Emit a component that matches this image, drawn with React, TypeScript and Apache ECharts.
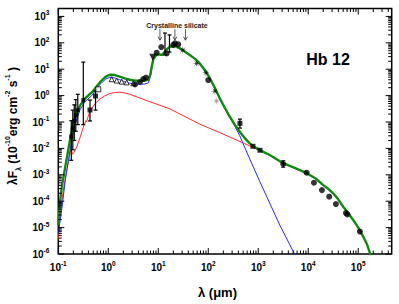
import React, { useEffect, useRef } from 'react';
import * as echarts from 'echarts';

// All values are log10: x = log10(lambda / micron), y = log10(lambda F_lambda / 1e-10 erg cm^-2 s^-1)
const X_MIN = -1;
const X_MAX = 5.67;
const Y_MIN = -6;
const Y_MAX = 3.3;
const FONT = '"Liberation Sans", Arial, sans-serif';

const totalModel: number[][] = [
  [-1.0, -4.9], [-0.97, -4.1], [-0.93, -3.45], [-0.86, -2.69], [-0.79, -1.94], [-0.73, -1.3],
  [-0.66, -0.8], [-0.56, -0.36], [-0.46, -0.1], [-0.33, 0.12], [-0.17, 0.5], [-0.05, 0.72],
  [0.03, 0.79], [0.13, 0.78], [0.23, 0.72], [0.33, 0.65], [0.43, 0.6], [0.53, 0.57], [0.63, 0.56],
  [0.73, 0.57], [0.8, 0.6], [0.84, 0.78], [0.87, 1.1], [0.9, 1.38], [0.95, 1.52], [1.0, 1.56],
  [1.04, 1.55], [1.08, 1.55], [1.13, 1.66], [1.18, 1.77], [1.23, 1.85], [1.33, 1.88], [1.43, 1.79],
  [1.53, 1.67], [1.63, 1.54], [1.73, 1.4], [1.83, 1.22], [1.93, 0.97], [2.03, 0.67], [2.13, 0.3],
  [2.23, -0.1], [2.33, -0.46], [2.43, -0.8], [2.53, -1.1], [2.63, -1.37], [2.73, -1.61], [2.83, -1.81],
  [2.93, -1.95], [3.03, -2.06], [3.13, -2.16], [3.23, -2.25], [3.5, -2.56], [3.75, -2.76], [3.97, -2.94],
  [4.15, -3.14], [4.3, -3.39], [4.4, -3.53], [4.5, -3.7], [4.6, -3.93], [4.7, -4.21], [4.8, -4.45],
  [4.9, -4.71], [5.0, -5.0], [5.1, -5.34], [5.18, -5.65], [5.25, -6.05],
];

const dustModel: number[][] = [
  [-1.0, -5.2], [-0.93, -4.3], [-0.86, -3.2], [-0.79, -2.35], [-0.73, -1.65], [-0.66, -1.05],
  [-0.56, -0.52], [-0.46, -0.22], [-0.33, 0.0], [-0.17, 0.42], [-0.05, 0.63], [0.03, 0.69],
  [0.13, 0.67], [0.23, 0.6], [0.33, 0.52], [0.43, 0.47], [0.53, 0.44], [0.63, 0.43], [0.73, 0.44],
  [0.8, 0.48], [0.84, 0.7], [0.87, 1.05], [0.9, 1.38], [0.95, 1.52], [1.0, 1.56],
  [1.04, 1.55], [1.08, 1.55], [1.13, 1.66], [1.18, 1.77], [1.23, 1.85], [1.33, 1.88], [1.43, 1.79],
  [1.53, 1.67], [1.63, 1.54], [1.73, 1.4], [1.83, 1.22], [1.93, 0.97], [2.03, 0.67], [2.13, 0.3],
  [2.23, -0.1], [2.33, -0.47], [2.43, -0.82], [2.53, -1.15], [2.63, -1.52], [2.73, -1.96], [2.83, -2.4],
  [3.03, -3.25], [3.43, -4.9], [3.74, -6.05],
];

const nebularModel: number[][] = [
  [-1.0, -5.45], [-0.966, -4.59], [-0.9, -3.58], [-0.83, -2.82], [-0.79, -2.45], [-0.76, -2.1],
  [-0.74, -2.04], [-0.715, -2.22], [-0.69, -2.16], [-0.63, -1.94], [-0.56, -1.56], [-0.5, -1.2],
  [-0.45, -0.95], [-0.435, -0.99], [-0.41, -0.84], [-0.37, -0.6], [-0.27, -0.32], [-0.17, -0.13],
  [-0.07, -0.01], [0.03, 0.08], [0.13, 0.12], [0.23, 0.13], [0.33, 0.1], [0.43, 0.05], [0.63, -0.09],
  [0.83, -0.23], [1.23, -0.5], [1.83, -1.08], [2.23, -1.4], [2.73, -1.82], [3.03, -2.08], [3.23, -2.25],
];

// [x, y]
const uvPoints: number[][] = [
  [-0.74, -1.55], [-0.71, -1.25], [-0.68, -0.95], [-0.65, -0.75], [-0.61, -0.55], [-0.5, -0.17],
];
const squarePoints: number[][] = [
  [-0.366, -0.545], [-0.256, -0.015], [2.634, -1.05], [2.894, -1.92], [3.034, -2.07],
];
const openSquarePoints: number[][] = [[-0.2, 0.24]];
const triangleOpenPoints: number[][] = [
  [0.068, 0.62], [0.168, 0.57], [0.268, 0.53], [0.368, 0.5], [0.5, 0.47],
];
const invTrianglePoints: number[][] = [[0.89, 1.45]];
const circlePoints: number[][] = [
  [0.534, 0.42], [0.634, 0.515], [0.7, 0.63], [0.754, 0.686], [0.968, 1.625], [1.06, 1.84],
  [1.168, 1.6], [1.3, 1.92], [1.334, 1.98], [1.4, 1.94], [2.0, 0.59],
  [3.5, -2.59], [3.968, -2.92], [4.114, -3.3], [4.274, -3.58], [4.42, -3.83], [4.554, -4.11],
  [4.754, -4.45], [4.784, -4.5], [5.034, -5.15],
];
const starPoints: number[][] = [[1.49, 1.73], [1.768, 1.22], [1.954, 0.87], [2.134, 0.17]];
const grayStarPoints: number[][] = [[2.164, -0.205]];

// [x, low, high]
const errorBars: number[][] = [
  [-0.74, -2.45, -0.95], [-0.71, -2.05, -0.55], [-0.68, -1.7, -0.35], [-0.65, -1.35, -0.15],
  [-0.61, -1.1, 0.05], [-0.5, -1.1, 1.27], [-0.366, -0.96, -0.17], [-0.256, -0.55, 0.17],
  [1.134, 1.54, 2.37], [1.224, 1.65, 2.3], [2.634, -1.23, -0.89], [3.5, -2.71, -2.47],
];

// crystalline silicate feature wavelengths (micron) and arrow extent (log flux)
const silicateFeatures = [10.8, 21.5, 35];
const arrowTop = 2.52;
const arrowBottom = 2.1;

const STAR =
  'path://M5,0L1.2,0.5L3.54,3.54L0.5,1.2L0,5L-0.5,1.2L-3.54,3.54L-1.2,0.5L-5,0L-1.2,-0.5L-3.54,-3.54L-0.5,-1.2L0,-5L0.5,-1.2L3.54,-3.54L1.2,-0.5Z';

function buildTicks(): number[][] {
  const t: number[][] = [];
  for (let n = Math.floor(X_MIN); n <= Math.floor(X_MAX); n++) {
    for (let k = 1; k <= 9; k++) {
      const v = n + Math.log10(k);
      if (v >= X_MIN - 1e-9 && v <= X_MAX) t.push([v, k === 1 ? 1 : 0, 0]);
    }
  }
  for (let n = Y_MIN; n <= Math.floor(Y_MAX); n++) {
    for (let k = 1; k <= 9; k++) {
      const v = n + Math.log10(k);
      if (v >= Y_MIN - 1e-9 && v <= Y_MAX) t.push([v, k === 1 ? 1 : 0, 1]);
    }
  }
  return t;
}

const labelRich = {
  b: { fontSize: 10, fontWeight: 'bold', fontFamily: FONT, color: '#000', lineHeight: 14 },
  s: { fontSize: 6.5, fontWeight: 'bold', fontFamily: FONT, color: '#000', lineHeight: 8, verticalAlign: 'top' },
};
const powFormatter = (v: number) =>
  Math.abs(v - Math.round(v)) < 1e-6 ? `{b|10}{s|${Math.round(v)}}` : '';

export default function App() {
  const ref = useRef<HTMLDivElement>(null);
  useEffect(() => {
    const chart = echarts.init(ref.current!, null, { renderer: 'svg' });
    const black = '#000';
    const tickStyle = { stroke: black, lineWidth: 1 };
    const option: any = {
      animation: false,
      backgroundColor: '#fff',
      grid: { left: 58.3, right: 7.3, top: 8.5, bottom: 50, show: true, borderColor: black, borderWidth: 1.5, backgroundColor: 'transparent' },
      xAxis: {
        type: 'value', min: X_MIN, max: X_MAX, interval: 1,
        axisLine: { show: false, onZero: false }, axisTick: { show: false }, splitLine: { show: false },
        axisLabel: { formatter: powFormatter, rich: labelRich, margin: 6 },
      },
      yAxis: {
        type: 'value', min: Y_MIN, max: Y_MAX, interval: 1,
        axisLine: { show: false, onZero: false }, axisTick: { show: false }, splitLine: { show: false },
        axisLabel: { formatter: powFormatter, rich: labelRich, margin: 9 },
      },
      series: [
        {
          type: 'custom', data: buildTicks(), z: 10, silent: true,
          renderItem: (params: any, api: any) => {
            const v = api.value(0);
            const major = api.value(1);
            const ax = api.value(2);
            const cs = params.coordSys;
            const len = major ? 6 : 3.5;
            if (ax === 0) {
              const px = api.coord([v, Y_MIN])[0];
              const b = cs.y + cs.height;
              return {
                type: 'group', children: [
                  { type: 'line', shape: { x1: px, y1: b, x2: px, y2: b - len }, style: tickStyle },
                  { type: 'line', shape: { x1: px, y1: cs.y, x2: px, y2: cs.y + len }, style: tickStyle },
                ],
              };
            }
            const py = api.coord([X_MIN, v])[1];
            const r = cs.x + cs.width;
            return {
              type: 'group', children: [
                { type: 'line', shape: { x1: cs.x, y1: py, x2: cs.x + len, y2: py }, style: tickStyle },
                { type: 'line', shape: { x1: r, y1: py, x2: r - len, y2: py }, style: tickStyle },
              ],
            };
          },
        },
        {
          type: 'line', data: nebularModel, showSymbol: false, smooth: false, z: 2,
          lineStyle: { color: '#ff2a2a', width: 1 },
        },
        {
          type: 'line', data: dustModel, showSymbol: false, smooth: false, z: 3,
          lineStyle: { color: '#2a2aff', width: 1 },
        },
        {
          type: 'line', data: totalModel, showSymbol: false, smooth: false, z: 4,
          lineStyle: { color: '#118811', width: 2.4, join: 'round' },
        },
        {
          type: 'custom', data: errorBars, z: 5, silent: true,
          renderItem: (_p: any, api: any) => {
            const lo = api.coord([api.value(0), api.value(1)]);
            const hi = api.coord([api.value(0), api.value(2)]);
            const st = { stroke: black, lineWidth: 1.2 };
            return {
              type: 'group', children: [
                { type: 'line', shape: { x1: lo[0], y1: lo[1], x2: hi[0], y2: hi[1] }, style: st },
                { type: 'line', shape: { x1: lo[0] - 2, y1: lo[1], x2: lo[0] + 2, y2: lo[1] }, style: st },
                { type: 'line', shape: { x1: hi[0] - 2, y1: hi[1], x2: hi[0] + 2, y2: hi[1] }, style: st },
              ],
            };
          },
        },
        {
          type: 'custom', data: silicateFeatures.map((w) => [Math.log10(w), arrowTop, arrowBottom]), z: 5, silent: true,
          renderItem: (_p: any, api: any) => {
            const t = api.coord([api.value(0), api.value(1)]);
            const b = api.coord([api.value(0), api.value(2)]);
            const st = { stroke: '#333', lineWidth: 0.8, fill: null };
            return {
              type: 'group', children: [
                { type: 'line', shape: { x1: t[0], y1: t[1], x2: b[0], y2: b[1] }, style: st },
                { type: 'polyline', shape: { points: [[b[0] - 2, b[1] - 3.5], [b[0], b[1]], [b[0] + 2, b[1] - 3.5]] }, style: st },
              ],
            };
          },
        },
        { type: 'scatter', data: uvPoints, symbol: 'rect', symbolSize: 4, z: 6, itemStyle: { color: black } },
        { type: 'scatter', data: squarePoints, symbol: 'rect', symbolSize: 5, z: 6, itemStyle: { color: black } },
        { type: 'scatter', data: openSquarePoints, symbol: 'rect', symbolSize: 5, z: 6, itemStyle: { color: '#fff', borderColor: black, borderWidth: 1 } },
        { type: 'scatter', data: triangleOpenPoints, symbol: 'triangle', symbolSize: 5, z: 6, itemStyle: { color: '#fff', borderColor: black, borderWidth: 1 } },
        { type: 'scatter', data: invTrianglePoints, symbol: 'triangle', symbolRotate: 180, symbolSize: 7, z: 6, itemStyle: { color: black } },
        { type: 'scatter', data: circlePoints, symbol: 'circle', symbolSize: 6, z: 6, itemStyle: { color: black } },
        { type: 'scatter', data: starPoints, symbol: STAR, symbolSize: 8, z: 6, itemStyle: { color: black } },
        { type: 'scatter', data: grayStarPoints, symbol: STAR, symbolSize: 8, z: 6, itemStyle: { color: '#888' } },
      ],
      graphic: [
        {
          type: 'text', x: 13, y: 126, rotation: Math.PI / 2, silent: true,
          style: {
            text: '{a|λF}{sb|λ}{a| (10}{sp|-10}{a|erg cm}{sp|-2}{a| s}{sp|-1}{a| )}',
            align: 'center', verticalAlign: 'middle', textAlign: 'center', textVerticalAlign: 'middle',
            rich: {
              a: { fontSize: 12, fontWeight: 'bold', fontFamily: FONT, fill: black, lineHeight: 18 },
              sb: { fontSize: 7, fontWeight: 'bold', fontFamily: FONT, fill: black, lineHeight: 9, verticalAlign: 'bottom' },
              sp: { fontSize: 7, fontWeight: 'bold', fontFamily: FONT, fill: black, lineHeight: 9, verticalAlign: 'top' },
            },
          },
        },
        {
          type: 'text', x: 217.5, y: 292, silent: true,
          style: { text: 'λ (μm)', font: `bold 13px ${FONT}`, fill: black, align: 'center', verticalAlign: 'middle', textAlign: 'center', textVerticalAlign: 'middle' },
        },
        {
          type: 'text', x: 328, y: 59, silent: true,
          style: { text: 'Hb 12', font: `bold 16px ${FONT}`, fill: black, align: 'center', verticalAlign: 'middle', textAlign: 'center', textVerticalAlign: 'middle' },
        },
        {
          type: 'text', x: 177, y: 25, silent: true,
          style: { text: 'Crystalline silicate', font: `bold 7px ${FONT}`, fill: '#222', align: 'center', verticalAlign: 'middle', textAlign: 'center', textVerticalAlign: 'middle' },
        },
      ],
    };
    chart.setOption(option);
    return () => chart.dispose();
  }, []);
  return <div ref={ref} style={{ position: 'fixed', left: 0, top: 0, width: 399, height: 304 }} />;
}
